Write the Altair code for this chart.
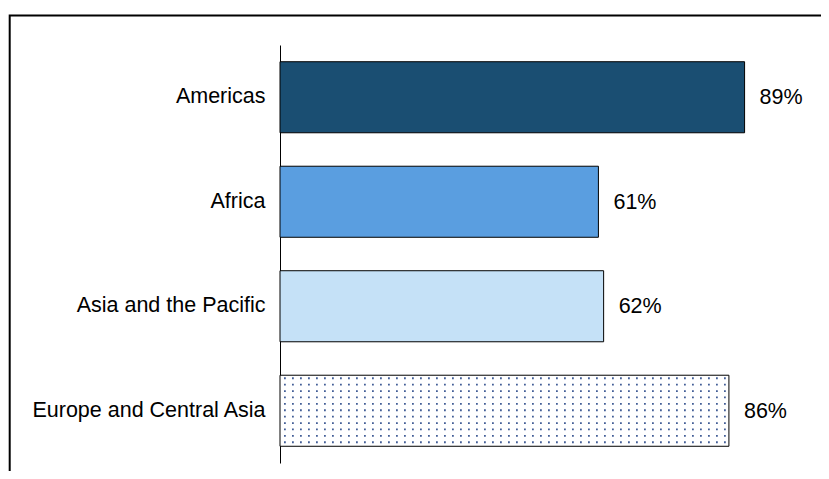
import altair as alt
import pandas as pd

regions = ["Americas", "Africa", "Asia and the Pacific", "Europe and Central Asia"]
values = [89, 61, 62, 86]
colors = ["#1a4e72", "#5a9ee0", "#c5e1f7", "#ffffff"]
labels = ["89%", "61%", "62%", "86%"]
patterned = ["Europe and Central Asia"]

FONT = "Liberation Sans, Arial"
FS = 21.5

df = pd.DataFrame({"region": regions, "value": values, "label": labels, "zero": [0] * len(values)})

y_enc = alt.Y(
    "region:N",
    sort=regions,
    title=None,
    scale=alt.Scale(paddingInner=0.32, paddingOuter=0.16),
    axis=alt.Axis(
        ticks=False,
        domainColor="black",
        domainWidth=1,
        labelColor="black",
        labelFont=FONT,
        labelFontSize=FS,
        labelPadding=15,
        labelLimit=400,
    ),
)
x_scale = alt.Scale(domain=[0, 100], nice=False)

base = alt.Chart(df)

bars = base.mark_bar(stroke="black", strokeWidth=1).encode(
    y=y_enc,
    x=alt.X("value:Q", scale=x_scale, axis=None),
    color=alt.Color("region:N", scale=alt.Scale(domain=regions, range=colors), legend=None),
)

# dotted texture for the patterned bar
dot_rows = []
for i in range(11):
    off = -32.5 + 6.4 * i
    dot_rows.append(
        base.transform_filter(alt.FieldOneOfPredicate(field="region", oneOf=patterned))
        .mark_rule(
            color="#2f4c8c",
            strokeWidth=1.8,
            strokeDash=[1.8, 6.2],
            strokeDashOffset=4,
            yOffset=off,
            opacity=0.9,
        )
        .encode(
            y=alt.Y("region:N", sort=regions),
            x=alt.X("zero:Q", scale=x_scale),
            x2="value:Q",
        )
    )

text = base.mark_text(
    align="left", baseline="middle", dx=15, dy=1, font=FONT, fontSize=FS, color="black"
).encode(y=alt.Y("region:N", sort=regions), x=alt.X("value:Q", scale=x_scale), text="label:N")

frame = alt.Chart(pd.DataFrame({"f": [0]})).mark_rect(
    fillOpacity=0, fill="white", stroke="black", strokeWidth=2
).encode(
    x=alt.value(-270.3), x2=alt.value(900), y=alt.value(-29.5), y2=alt.value(800)
)

chart = (
    alt.layer(frame, bars, *dot_rows, text)
    .properties(
        width=522,
        height=418,
        autosize=alt.AutoSizeParams(type="none"),
        padding={"left": 272, "top": 37, "right": 19, "bottom": 8},
        background="white",
    )
    .configure_view(stroke=None)
)

chart.save("out.html", embed_options={"renderer": "svg", "actions": False})
